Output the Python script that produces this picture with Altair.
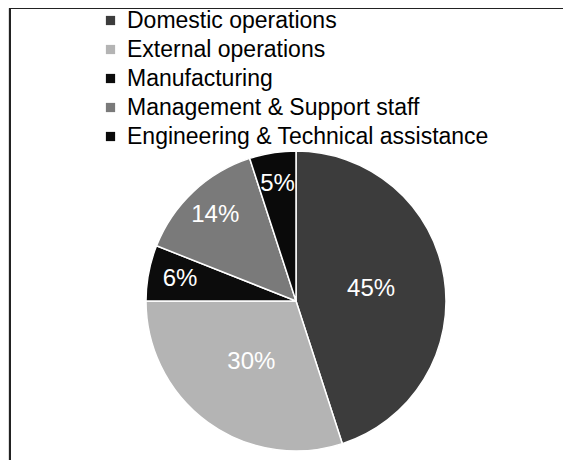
import altair as alt
import pandas as pd

categories = ["Domestic operations", "External operations", "Manufacturing",
              "Management & Support staff", "Engineering & Technical assistance"]
shares = [45, 30, 6, 14, 5]
colors = ["#3c3c3c", "#b4b4b4", "#0c0c0c", "#7a7a7a", "#0a0a0a"]

df = pd.DataFrame({"category": categories, "value": shares,
                   "order": list(range(len(categories)))})

W, H = 555, 452
CX, CY = 288, 293

color = alt.Color("category:N",
                  scale=alt.Scale(domain=categories, range=colors),
                  legend=alt.Legend(orient="none", legendX=91, legendY=1,
                                    title=None, symbolType="square",
                                    symbolSize=85, symbolStrokeWidth=0,
                                    labelFontSize=23, labelFont="Liberation Sans",
                                    labelColor="#000", labelLimit=500,
                                    labelOffset=5, rowPadding=5, padding=0))

pie = alt.Chart(df).mark_arc(outerRadius=150, stroke="white", strokeWidth=1.5).encode(
    theta=alt.Theta("value:Q", stack=True),
    order=alt.Order("order:Q"),
    color=color,
    x=alt.value(CX), y=alt.value(CY),
)

text_common = dict(font="Liberation Sans", fontSize=24, color="white")

stacked = alt.Chart(df).transform_calculate(label="datum.value + '%'").transform_window(
    cum="sum(value)", sort=[alt.SortField("order")]
).transform_calculate(mid="datum.cum - datum.value / 2")

theta_mid = alt.Theta("mid:Q", scale=alt.Scale(domain=[0, 100], range=[0, 6.283185307]))

labels_big = stacked.transform_filter("datum.value >= 20").mark_text(
    radius=76, **text_common).encode(
    theta=theta_mid, text="label:N", x=alt.value(CX), y=alt.value(CY))

labels_small = stacked.transform_filter("datum.value < 20").mark_text(
    radius=118, **text_common).encode(
    theta=theta_mid, text="label:N", x=alt.value(CX), y=alt.value(CY))

border_top = alt.Chart(df).mark_rule(color="#222", strokeWidth=2).encode(
    x=alt.value(2), x2=alt.value(W), y=alt.value(0))
border_left = alt.Chart(df).mark_rule(color="#222", strokeWidth=2).encode(
    x=alt.value(2), y=alt.value(0), y2=alt.value(H))

chart = alt.layer(pie, labels_big, labels_small, border_top, border_left).properties(
    width=W, height=H, padding=0, autosize=alt.AutoSizeParams(type="none")
).configure_view(stroke=None).configure(background="white")

chart.save("out.html", embed_options={"renderer": "svg", "actions": False})
